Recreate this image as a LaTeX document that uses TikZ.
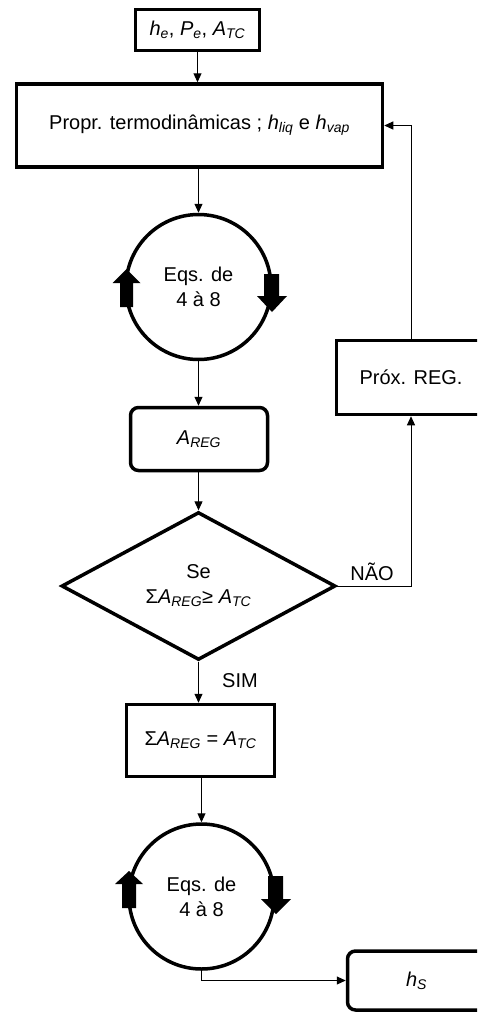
\documentclass[tikz,border=0pt]{standalone}
\usepackage{fontspec}
\setmainfont{Liberation Sans}
\usetikzlibrary{arrows.meta,shapes.geometric}
\newcommand{\vsub}[2]{\textit{#1}\textsubscript{\textit{#2}}}
\begin{document}
\begin{tikzpicture}[x=1pt,y=-1pt,
  every node/.style={font=\fontsize{20}{25}\selectfont, inner sep=0pt},
  box/.style={draw, line width=3.5pt, rectangle},
  rbox/.style={box, rounded corners=8pt},
  cir/.style={draw, circle, line width=3.5pt, minimum size=145pt, align=center},
  dia/.style={draw, diamond, line width=3.5pt, minimum width=274pt, minimum height=144pt, align=center},
  conn/.style={line width=1pt, -{Triangle[length=9pt,width=8pt]}},
  blockarrow/.style={fill=black}
]
\useasboundingbox (0,0) rectangle (477,1012);
\clip (0,0) rectangle (477,1012);

\node[box, minimum width=124pt, minimum height=41pt] (he) at (197.5,30) {\vsub{h}{e}, \vsub{P}{e}, \vsub{A}{TC}};
\node[box, minimum width=366pt, minimum height=83pt] (propr) at (199.5,125.5) {Propr. termodinâmicas ; \vsub{h}{liq} e \vsub{h}{vap}};
\node[cir] (c1) at (198.5,287) {Eqs. de\\4 à 8};
\node[rbox, minimum width=137pt, minimum height=63pt] (areg) at (199,439) {\vsub{A}{REG}};
\node[dia] (dia) at (198.5,586) {Se\\Σ\vsub{A}{REG}≥ \vsub{A}{TC}};
\node[box, minimum width=148pt, minimum height=72pt] (sigma) at (200.5,740.5) {Σ\vsub{A}{REG} = \vsub{A}{TC}};
\node[cir] (c2) at (201.5,896.5) {Eqs. de\\4 à 8};
\node[box, minimum width=149pt, minimum height=74pt] (prox) at (411,377.5) {Próx. REG.};
\node[rbox, minimum width=138pt, minimum height=59pt] (hs) at (416.5,980.5) {\vsub{h}{S}};

\node (nao) at (372,572) {NÃO};
\node (sim) at (240,681) {SIM};

\draw[conn] (he.south) -- (he.south |- propr.north);
\draw[conn] (c1.north |- propr.south) -- (c1.north);
\draw[conn] (c1.south) -- (c1.south |- areg.north);
\draw[conn] (dia.north |- areg.south) -- (dia.north);
\draw[conn] (dia.east) -| (prox.south);
\draw[conn] (prox.north) |- (propr.east);
\draw[conn] (dia.south) -- (dia.south |- sigma.north);
\draw[conn] (c2.north |- sigma.south) -- (c2.north);
\draw[conn] (c2.south) |- (hs.west);

% block arrows on circle 1
\fill[blockarrow] (126.5,269) -- (140.5,283) -- (133,283) -- (133,307) -- (120,307) -- (120,283) -- (112.5,283) -- cycle;
\fill[blockarrow] (264,274) -- (279,274) -- (279,296) -- (287,296) -- (272,312) -- (257,296) -- (264,296) -- cycle;
% block arrows on circle 2
\fill[blockarrow] (129,871) -- (143,884) -- (136,884) -- (136,908) -- (122,908) -- (122,884) -- (115,884) -- cycle;
\fill[blockarrow] (268,876) -- (283,876) -- (283,899) -- (291,899) -- (276,914) -- (261,899) -- (268,899) -- cycle;
\end{tikzpicture}
\end{document}
